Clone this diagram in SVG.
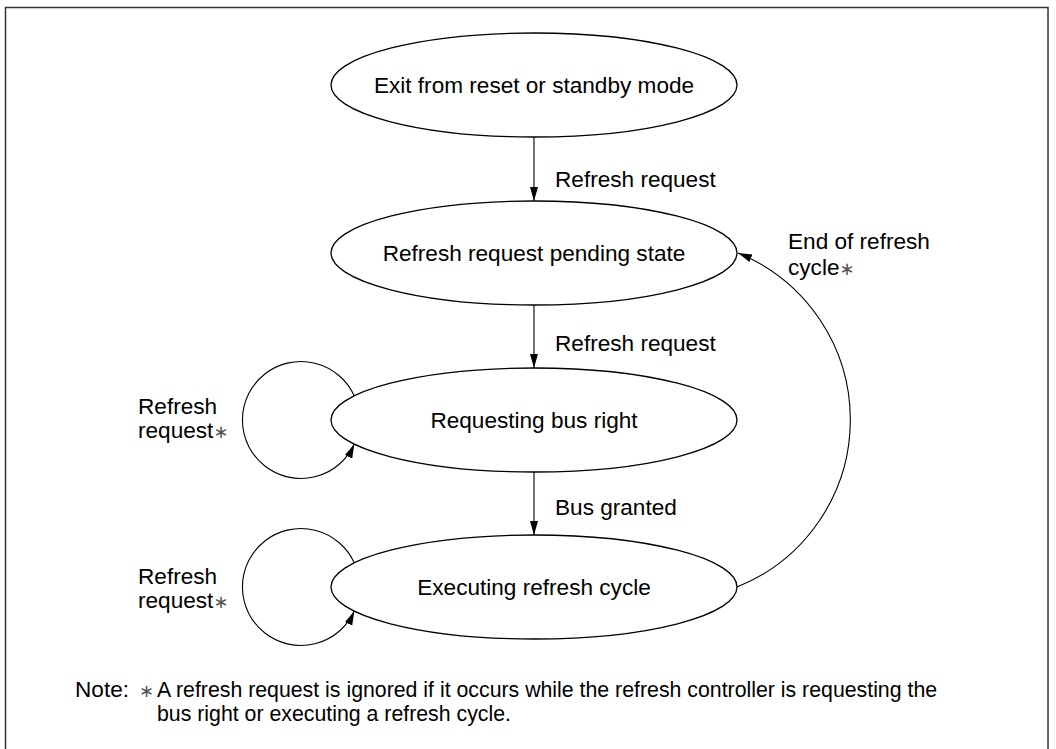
<svg xmlns="http://www.w3.org/2000/svg" width="1056" height="749" viewBox="0 0 1056 749">
  <style>
    .node { fill: #ffffff; stroke: #000000; stroke-width: 1.3; }
    .edge { fill: none; stroke: #000000; stroke-width: 1.1; }
    text { font-family: "Liberation Sans", Arial, Helvetica, sans-serif; font-size: 22.6px; fill: #000000; }
    .c { text-anchor: middle; }
    .ast { fill: #555555; font-family: "DejaVu Sans", "Liberation Sans", sans-serif; font-size: 18px; }
    .note { font-size: 21.3px; }
  </style>
  <defs>
    <marker id="arrow" markerUnits="userSpaceOnUse" markerWidth="15" markerHeight="9" refX="14" refY="4" orient="auto">
      <path d="M0,0 L14,4 L0,8 Z" fill="#000000"/>
    </marker>
  </defs>
  <rect width="1056" height="749" fill="#ffffff"/>
  <rect x="5.5" y="7.5" width="1042.5" height="760" fill="none" stroke="#333333" stroke-width="1.5"/>

  <g id="connectors">
    <line class="edge" x1="534" y1="137" x2="534" y2="201" marker-end="url(#arrow)"/>
    <line class="edge" x1="534" y1="305" x2="534" y2="368" marker-end="url(#arrow)"/>
    <line class="edge" x1="534" y1="472" x2="534" y2="535" marker-end="url(#arrow)"/>
    <path class="edge" d="M354.3,396 A58.5,58.5 0 1 0 354.3,444" marker-end="url(#arrow)"/>
    <path class="edge" d="M354.3,563 A58.5,58.5 0 1 0 354.3,611" marker-end="url(#arrow)"/>
    <path class="edge" d="M737,587 A180,180 0 0 0 738,253" marker-end="url(#arrow)"/>
    <text x="555" y="187">Refresh request</text>
    <text x="555" y="351">Refresh request</text>
    <text x="555" y="515">Bus granted</text>
    <text x="788" y="249">End of refresh</text>
    <text x="788" y="275">cycle<tspan class="ast">∗</tspan></text>
    <text x="138" y="414">Refresh</text>
    <text x="138" y="438">request<tspan class="ast">∗</tspan></text>
    <text x="138" y="584">Refresh</text>
    <text x="138" y="608">request<tspan class="ast">∗</tspan></text>
  </g>

  <g id="node-exit">
    <ellipse class="node" cx="534" cy="85" rx="203" ry="52"/>
    <text class="c" x="534" y="93">Exit from reset or standby mode</text>
  </g>
  <g id="node-pending">
    <ellipse class="node" cx="534" cy="253" rx="203" ry="52"/>
    <text class="c" x="534" y="261">Refresh request pending state</text>
  </g>
  <g id="node-requesting">
    <ellipse class="node" cx="534" cy="420" rx="203" ry="52"/>
    <text class="c" x="534" y="428">Requesting bus right</text>
  </g>
  <g id="node-executing">
    <ellipse class="node" cx="534" cy="587" rx="203" ry="52"/>
    <text class="c" x="534" y="595">Executing refresh cycle</text>
  </g>

  <g id="note">
    <text x="75" y="697">Note:</text>
    <text class="ast" x="139" y="697">∗</text>
    <text class="note" x="157" y="697">A refresh request is ignored if it occurs while the refresh controller is requesting the</text>
    <text class="note" x="157" y="721">bus right or executing a refresh cycle.</text>
  </g>
</svg>
